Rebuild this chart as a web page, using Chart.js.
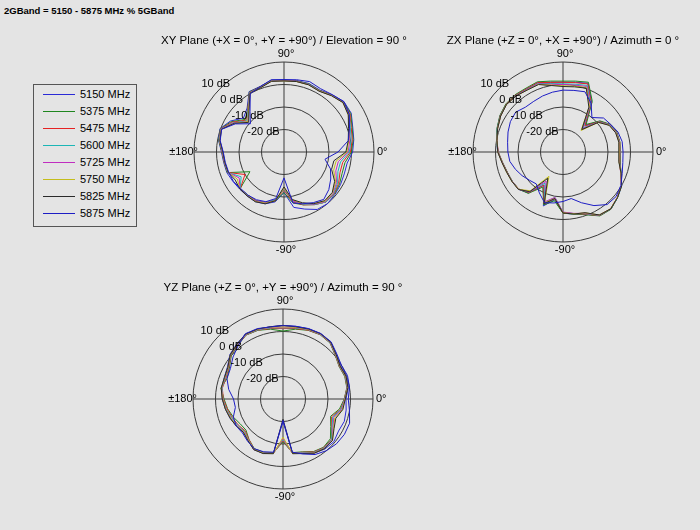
<!DOCTYPE html>
<html lang="en">
<head>
<meta charset="UTF-8">
<title>5 GHz band radiation patterns</title>
<script src="https://cdn.jsdelivr.net/npm/chart.js@4.4.0/dist/chart.umd.min.js"></script>
<style>
  body { margin: 0; width: 700px; height: 530px; background: #e4e4e4; position: relative; overflow: hidden;
         font-family: "Liberation Sans", Arial, sans-serif; }
  #heading { position: absolute; left: 4px; top: 5px; font-size: 9.5px; font-weight: bold; }
  canvas { position: absolute; }
  #legend { position: absolute; left: 33px; top: 84px; width: 104px; height: 143px; border: 1px solid #555; box-sizing: border-box; font-size: 11px; }
  #legend div { position: absolute; left: 9px; height: 17px; line-height: 17px; white-space: nowrap; }
  #legend span { display: inline-block; width: 32px; height: 1px; vertical-align: middle; margin-right: 5px; }
</style>
</head>
<body>
<div id="heading">2GBand = 5150 - 5875 MHz % 5GBand</div>
<div id="legend"></div>
<canvas id="xy" width="280" height="240" style="left:144px;top:32px"></canvas>
<canvas id="zx" width="280" height="240" style="left:423px;top:32px"></canvas>
<canvas id="yz" width="280" height="240" style="left:143px;top:279px"></canvas>
<script>
// angles in degrees, counterclockwise from +0 deg (right)
const angleDeg = [0, 10, 20, 30, 40, 50, 60, 70, 80, 90, 100, 110, 120, 130, 140, 150, 160, 170,
                  180, 190, 200, 210, 220, 230, 240, 250, 260, 270, 280, 290, 300, 310, 320, 330, 340, 350];
const freqLabels = ['5150 MHz', '5375 MHz', '5475 MHz', '5600 MHz', '5725 MHz', '5750 MHz', '5825 MHz', '5875 MHz'];
const ringTicks = [-20, -10, 0, 10];
const axisLabels = ['0°', '90°', '±180°', '-90°'];

const xyTitle = 'XY Plane (+X = 0°, +Y = +90°) / Elevation = 90 °';
const zxTitle = 'ZX Plane (+Z = 0°, +X = +90°) / Azimuth = 0 °';
const yzTitle = 'YZ Plane (+Z = 0°, +Y = +90°) / Azimuth = 90 °';

// gain in dB
const xy5150 = [0.5, 1.5, 2.5, 4.5, 4.8, 3.2, 1.8, 2.4, 2.2, 2.0, 2.4, 1.0, 1.0, -4.5, -6.5, -2.5, 0.3, -0.5, -2.2, -2.8, -3.0, -3.8, -4.3, -4.5, -4.5, -5.5, -7.5, -12.0, -5.0, -3.0, -0.5, 0.0, -0.5, -1.0, -1.5, -1.5];
const xy5375 = [0.0, 1.2, 2.2, 4.2, 4.6, 3.0, 1.6, 2.2, 2.1, 1.9, 2.3, 0.9, 0.8, -5.0, -7.5, -3.0, 0.1, -0.6, -2.4, -3.0, -3.2, -12.5, -4.5, -5.0, -5.0, -6.0, -8.0, -12.0, -7.0, -5.0, -3.0, -1.0, -0.8, -1.5, -2.5, -2.5];
const xy5475 = [-0.5, 0.8, 1.8, 3.8, 4.5, 3.0, 1.5, 2.0, 2.0, 1.8, 2.2, 0.8, 0.6, -5.0, -8.0, -3.5, 0.0, -0.8, -2.5, -3.1, -3.4, -10.0, -4.6, -5.0, -5.0, -6.0, -8.5, -13.0, -7.5, -5.0, -3.0, -1.0, -1.0, -2.0, -3.5, -3.5];
const xy5600 = [-1.0, 0.3, 1.4, 3.5, 4.4, 2.9, 1.4, 2.0, 1.9, 1.7, 2.1, 0.7, 0.5, -5.2, -8.5, -4.0, -0.1, -0.9, -2.6, -3.2, -3.4, -8.0, -4.6, -5.0, -4.8, -6.0, -8.5, -13.5, -8.0, -5.2, -3.0, -1.0, -1.2, -2.5, -4.5, -4.5];
const xy5725 = [-1.5, -0.3, 1.0, 3.2, 4.3, 2.8, 1.3, 1.9, 1.9, 1.7, 2.0, 0.6, 0.4, -5.5, -9.0, -4.2, -0.2, -1.0, -2.6, -3.2, -3.5, -7.0, -4.5, -4.8, -4.8, -6.0, -8.0, -14.0, -8.0, -5.5, -3.2, -1.2, -1.5, -3.0, -5.5, -5.5];
const xy5750 = [-2.0, -0.8, 0.8, 3.0, 4.2, 2.8, 1.3, 1.8, 1.8, 1.6, 2.0, 0.5, 0.3, -5.5, -9.0, -4.5, -0.3, -1.0, -2.7, -3.3, -3.5, -6.0, -4.5, -4.8, -4.6, -5.8, -8.0, -14.0, -8.5, -5.5, -3.5, -1.5, -1.8, -3.5, -6.5, -6.5];
const xy5825 = [-2.5, -1.0, 0.5, 3.0, 4.2, 2.7, 1.2, 1.8, 1.8, 1.6, 1.9, 0.4, 0.2, -5.8, -9.5, -4.5, -0.4, -1.1, -2.8, -3.3, -3.6, -5.0, -4.4, -4.5, -4.5, -5.5, -8.0, -14.5, -8.5, -6.0, -3.5, -1.8, -2.0, -4.0, -7.5, -7.5];
const xy5875 = [-6.0, -1.0, 1.0, 3.5, 4.8, 3.3, 2.5, 3.3, 2.6, 2.2, 2.6, 0.9, 0.0, -6.5, -10.5, -5.0, -0.5, -1.2, -3.0, -3.5, -3.8, -4.0, -4.8, -5.0, -5.5, -6.5, -9.0, -18.5, -7.0, -5.5, -4.0, -2.5, -4.0, -6.0, -8.0, -11.5];

const zx5150 = [-4.8, -4.5, -4.7, -5.7, -8.8, -14.5, -4.5, 2.5, 1.5, 1.0, 1.5, 2.8, 2.4, 2.9, 3.0, 2.3, 1.1, 0.0, -1.0, -2.6, -3.6, -3.9, -4.2, -6.2, -13.0, -4.5, -8.5, -2.8, -2.0, -0.5, 2.6, 3.1, 1.6, 0.1, -2.5, -4.3];
const zx5375 = [-4.5, -4.3, -4.5, -5.5, -8.5, -14.0, -4.0, 3.0, 2.0, 1.5, 2.0, 3.2, 2.8, 3.2, 3.2, 2.4, 1.2, 0.0, -1.2, -2.8, -3.7, -4.0, -4.3, -6.0, -12.0, -5.0, -8.0, -2.8, -2.0, -0.3, 2.8, 3.2, 1.6, 0.0, -2.6, -4.2];
const zx5475 = [-4.6, -4.4, -4.7, -5.7, -9.0, -15.0, -5.0, 2.2, 1.3, 1.0, 1.4, 2.8, 2.4, 2.9, 3.0, 2.2, 1.0, -0.2, -1.2, -2.7, -3.6, -3.9, -4.4, -6.5, -13.0, -5.5, -9.0, -3.0, -2.2, -0.6, 2.6, 3.0, 1.5, 0.0, -2.7, -4.4];
const zx5600 = [-4.7, -4.5, -4.8, -5.8, -9.2, -16.0, -5.5, 1.5, 0.6, 0.3, 0.9, 2.4, 2.1, 2.7, 2.9, 2.1, 1.0, -0.1, -1.1, -2.6, -3.5, -3.9, -4.3, -6.8, -14.0, -6.0, -9.5, -3.2, -2.2, -0.8, 2.5, 3.0, 1.6, 0.1, -2.6, -4.5];
const zx5725 = [-4.8, -4.6, -4.9, -6.0, -9.3, -16.5, -6.0, 1.0, 0.2, 0.0, 0.6, 2.2, 2.0, 2.6, 2.8, 2.0, 0.9, -0.2, -1.1, -2.6, -3.5, -3.9, -4.2, -7.0, -15.0, -6.5, -9.5, -3.3, -2.3, -1.0, 2.4, 2.9, 1.5, 0.0, -2.7, -4.6];
const zx5750 = [-5.0, -4.7, -5.0, -6.2, -9.5, -17.5, -6.5, 0.5, -0.3, -0.6, 0.2, 2.0, 1.8, 2.5, 2.8, 2.0, 0.9, -0.2, -1.0, -2.5, -3.4, -3.8, -4.2, -7.5, -17.5, -6.0, -9.0, -3.0, -2.1, -1.2, 2.3, 2.9, 1.5, 0.0, -2.6, -4.7];
const zx5825 = [-5.2, -4.8, -5.1, -6.3, -9.5, -17.0, -7.0, 0.2, -0.6, -0.9, 0.0, 1.9, 1.8, 2.5, 2.8, 2.0, 0.9, -0.2, -1.0, -2.5, -3.4, -3.8, -4.1, -7.0, -16.5, -5.5, -9.0, -2.9, -2.0, -1.3, 2.3, 3.0, 1.6, 0.1, -2.5, -4.8];
const zx5875 = [-3.3, -3.3, -4.0, -5.5, -6.5, -10.0, -5.0, -1.5, -2.2, -2.5, -3.0, -3.5, -4.0, -4.0, -2.5, -3.0, -4.0, -5.0, -5.5, -6.0, -7.5, -9.0, -10.5, -11.5, -9.0, -6.0, -7.0, -8.0, -9.0, -6.0, -2.5, 0.5, 0.8, -0.3, -2.0, -3.0];

const yz5150 = [-2.0, -0.5, 0.0, -0.5, 1.0, 3.0, 3.5, 3.2, 2.8, 2.7, 2.6, 3.0, 3.3, 2.0, 0.8, -1.5, -2.2, -2.2, -3.0, -4.0, -5.0, -6.0, -7.0, -6.0, -4.0, -4.3, -5.5, -20.0, -5.5, -4.2, -2.2, -1.0, -0.5, -1.5, -1.0, -1.5];
const yz5375 = [-2.8, -1.2, -0.8, -1.2, 0.3, 2.5, 3.0, 2.5, 1.5, 0.2, 1.5, 2.5, 2.8, 1.2, 0.0, -2.5, -3.5, -2.0, -3.8, -5.0, -6.5, -8.0, -8.5, -6.5, -4.5, -4.8, -5.8, -11.0, -5.8, -5.0, -3.0, -2.0, -2.5, -5.5, -7.5, -4.5];
const yz5475 = [-2.7, -1.1, -0.6, -1.1, 0.4, 2.6, 3.1, 2.6, 1.8, 1.3, 1.8, 2.6, 2.9, 1.3, 0.2, -2.2, -3.0, -2.6, -3.5, -4.8, -6.0, -7.0, -8.0, -6.5, -4.3, -4.6, -5.6, -11.5, -5.6, -4.8, -2.8, -1.8, -2.0, -5.0, -7.0, -4.0];
const yz5600 = [-2.6, -1.0, -0.5, -1.0, 0.5, 2.7, 3.2, 2.8, 2.1, 1.6, 2.1, 2.7, 3.0, 1.5, 0.3, -2.0, -2.7, -2.5, -3.3, -4.4, -5.7, -6.7, -7.6, -6.2, -4.2, -4.5, -5.5, -12.0, -5.5, -4.6, -2.6, -1.6, -1.8, -4.8, -6.5, -3.8];
const yz5725 = [-2.5, -0.9, -0.4, -0.9, 0.6, 2.8, 3.3, 2.9, 2.3, 1.9, 2.3, 2.9, 3.1, 1.6, 0.4, -1.9, -2.5, -2.3, -3.2, -4.2, -5.3, -6.3, -7.3, -6.0, -4.1, -4.4, -5.4, -12.5, -5.4, -4.4, -2.4, -1.4, -1.5, -4.3, -6.0, -3.5];
const yz5750 = [-2.4, -0.8, -0.3, -0.8, 0.7, 2.9, 3.4, 3.0, 2.4, 2.0, 2.4, 3.0, 3.2, 1.7, 0.5, -1.8, -2.4, -2.2, -3.1, -4.1, -5.2, -6.2, -7.2, -6.0, -4.1, -4.4, -5.4, -13.0, -5.4, -4.3, -2.3, -1.3, -1.4, -4.0, -5.5, -3.2];
const yz5825 = [-2.3, -0.7, -0.2, -0.7, 0.8, 3.0, 3.5, 3.1, 2.6, 2.7, 2.6, 3.1, 3.3, 1.8, 0.6, -1.7, -2.3, -2.1, -3.0, -4.0, -5.0, -6.0, -7.0, -5.8, -4.0, -4.2, -5.3, -21.0, -5.3, -4.2, -2.2, -1.2, -1.3, -3.8, -5.0, -3.0];
const yz5875 = [-1.0, 0.0, 0.5, 0.0, 1.2, 3.2, 3.6, 3.3, 2.8, 2.6, 2.5, 3.3, 3.5, 1.0, -1.0, -3.0, -3.5, -5.5, -8.0, -8.5, -6.5, -6.0, -6.5, -5.5, -4.5, -5.0, -6.0, -20.5, -6.0, -4.0, -1.5, 0.0, 1.0, 1.5, 1.5, 0.0];

const lineColors = ['#2a2ad6', '#1f861f', '#e52222', '#1cb6b6', '#c02ec0', '#c4bd1c', '#2a2a2a', '#1d1dc4'];
const fontFamily = '"Liberation Sans", Arial, sans-serif';
Chart.defaults.font.family = fontFamily;
Chart.defaults.color = '#000';

// legend box on the left
const legendBox = document.getElementById('legend');
freqLabels.forEach((name, i) => {
    const row = document.createElement('div');
    row.style.top = (0.5 + i * 17.05) + 'px';
    row.innerHTML = '<span style="background:' + lineColors[i] + '"></span>' + name;
    legendBox.appendChild(row);
});

// radar goes clockwise from the start angle, the data go counterclockwise
function clockwise(vals) {
    return vals.map((v, j) => vals[(vals.length - j) % vals.length]);
}

const polarFrame = {
    id: 'polarFrame',
    afterDraw(chart) {
        const r = chart.scales.r;
        const ctx = chart.ctx;
        const cx = r.xCenter, cy = r.yCenter, R = r.drawingArea;
        ctx.save();
        ctx.fillStyle = '#000';
        ctx.font = '11px ' + fontFamily;
        ctx.textAlign = 'left'; ctx.textBaseline = 'middle';
        ctx.fillText(axisLabels[0], cx + R + 3, cy);
        ctx.textAlign = 'center'; ctx.textBaseline = 'bottom';
        ctx.fillText(axisLabels[1], cx + 2, cy - R - 3);
        ctx.textAlign = 'right'; ctx.textBaseline = 'middle';
        ctx.fillText(axisLabels[2], cx - R + 4, cy);
        ctx.textAlign = 'center'; ctx.textBaseline = 'top';
        ctx.fillText(axisLabels[3], cx + 2, cy + R + 2);
        // ring values along the 135 deg direction
        ctx.textAlign = 'center'; ctx.textBaseline = 'middle';
        ringTicks.forEach(v => {
            const d = r.getDistanceFromCenterForValue(v) + 6.5;
            ctx.fillText(v + ' dB', cx - d * Math.SQRT1_2, cy - d * Math.SQRT1_2);
        });
        ctx.restore();
    }
};

function makePlane(id, title, series) {
    new Chart(document.getElementById(id), {
        type: 'radar',
        data: {
            labels: clockwise(angleDeg).map(a => a + '°'),
            datasets: series.map((vals, i) => ({
                label: freqLabels[i],
                data: clockwise(vals),
                borderColor: lineColors[i],
                borderWidth: 1,
                pointRadius: 0,
                fill: false,
                order: series.length - i
            }))
        },
        options: {
            responsive: false,
            animation: false,
            layout: { padding: { left: 0, right: 0, top: 0, bottom: 30 } },
            plugins: {
                legend: { display: false },
                tooltip: { enabled: false },
                title: {
                    display: true,
                    text: title,
                    color: '#000',
                    font: { size: 11.5, weight: 'normal' },
                    padding: { top: 2, bottom: 14.2 }
                }
            },
            scales: {
                r: {
                    min: -30,
                    max: 10,
                    startAngle: 90,
                    ticks: { stepSize: 10, display: false },
                    grid: { circular: true, color: '#3a3a3a', lineWidth: 1 },
                    angleLines: {
                        color: '#3a3a3a',
                        lineWidth: ctx => (ctx.index % 9 === 0 ? 1 : 0)
                    },
                    pointLabels: { display: false }
                }
            }
        },
        plugins: [polarFrame]
    });
}

makePlane('xy', xyTitle, [xy5150, xy5375, xy5475, xy5600, xy5725, xy5750, xy5825, xy5875]);
makePlane('zx', zxTitle, [zx5150, zx5375, zx5475, zx5600, zx5725, zx5750, zx5825, zx5875]);
makePlane('yz', yzTitle, [yz5150, yz5375, yz5475, yz5600, yz5725, yz5750, yz5825, yz5875]);
</script>
</body>
</html>
